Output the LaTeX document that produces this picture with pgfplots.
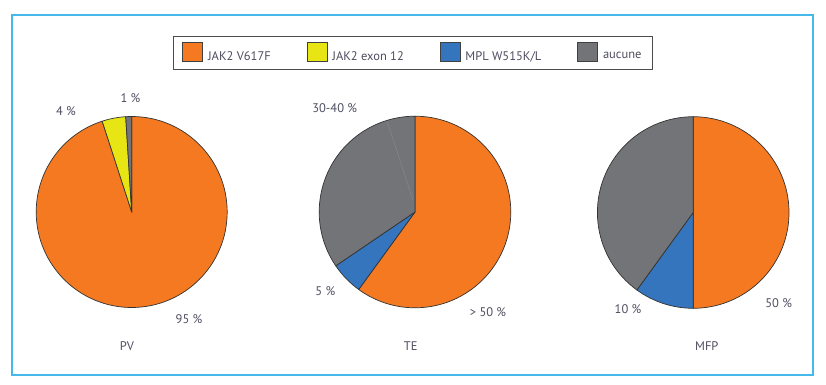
\documentclass[border=0pt]{standalone}
\usepackage{pgfplots}
\pgfplotsset{compat=1.18}
\usepackage{pgfplotstable}
\usepackage{fontspec}
\setmainfont{PT Sans}
\definecolor{jorange}{RGB}{244,121,32}
\definecolor{jyellow}{RGB}{232,229,20}
\definecolor{jblue}{RGB}{53,117,189}
\definecolor{jgray}{RGB}{115,116,120}
\definecolor{txt}{RGB}{78,78,96}
\definecolor{frame}{RGB}{70,185,235}

\pgfplotstableread{
value col
95 jorange
4 jyellow
1 jgray
}\pv
\pgfplotstableread{
value col
60 jorange
5.5 jblue
34.5 jgray
}\te
\pgfplotstableread{
value col
50 jorange
10 jblue
40 jgray
}\mfp

\newcommand{\pie}[4]{%
  \gdef\cum{0}%
  \pgfplotstableforeachcolumnelement{value}\of#1\as\v{%
    \pgfplotstablegetelem{\pgfplotstablerow}{col}\of#1%
    \edef\c{\pgfplotsretval}%
    \pgfmathsetmacro\a{90-3.6*\cum}%
    \pgfmathsetmacro\b{90-3.6*(\cum+\v)}%
    \filldraw[fill=\c, draw=black!80, line width=0.7pt, line join=round]
      (axis cs:#2,#3) -- ++(\a:#4) arc[start angle=\a, end angle=\b, radius=#4] -- cycle;
    \pgfmathsetmacro\tmp{\cum+\v}%
    \xdef\cum{\tmp}%
  }%
}

\begin{document}
\begin{tikzpicture}
\begin{axis}[
  width=826pt, height=384pt, scale only axis,
  xmin=0, xmax=826, ymin=0, ymax=384,
  hide axis, clip=false,
  legend columns=4,
  legend image code/.code={\draw[#1] (0pt,-5.2pt) rectangle (20pt,13.8pt);},
  legend style={
    at={(0.5,0.862)}, anchor=center,
    draw=black!70, line width=0.8pt,
    inner xsep=9pt, inner ysep=6pt,
    font=\fontsize{12.5}{14}\selectfont, text=txt,
    /tikz/every odd column/.append style={column sep=3pt},
    /tikz/every even column/.append style={column sep=34pt},
  },
]
\path (axis cs:0,0) rectangle (axis cs:826,384);
\addlegendimage{fill=jorange, draw=black!75, line width=0.6pt}
\addlegendimage{fill=jyellow, draw=black!75, line width=0.6pt}
\addlegendimage{fill=jblue, draw=black!75, line width=0.6pt}
\addlegendimage{fill=jgray, draw=black!75, line width=0.6pt}
\legend{JAK2 V617F, JAK2 exon 12, MPL W515K/L, aucune}

\pgfplotsextra{%
  \draw[frame, line width=1.6pt] (axis cs:12,9) rectangle (axis cs:813,369);
  \pie{\pv}{131.7}{172}{95.5pt}
  \pie{\te}{415}{172}{95.8pt}
  \pie{\mfp}{693.2}{171.5}{95.8pt}
  \draw[white, opacity=0.12, line width=0.6pt] (axis cs:413,184) -- (axis cs:386,266);
  \begin{scope}[every node/.style={font=\fontsize{12.5}{14}\selectfont, text=txt}]
    \node at (axis cs:66,273) {4 \%};
    \node at (axis cs:130.5,286) {1 \%};
    \node at (axis cs:189,64.5) {95 \%};
    \node at (axis cs:127,37.5) {PV};
    \node at (axis cs:334.7,276) {30-40 \%};
    \node at (axis cs:325.3,93) {5 \%};
    \node at (axis cs:488,72) {> 50 \%};
    \node at (axis cs:410.7,37.5) {TE};
    \node at (axis cs:628,74.5) {10 \%};
    \node at (axis cs:778.7,81) {50 \%};
    \node at (axis cs:706.8,37.5) {MFP};
  \end{scope}
}
\end{axis}
\end{tikzpicture}
\end{document}
